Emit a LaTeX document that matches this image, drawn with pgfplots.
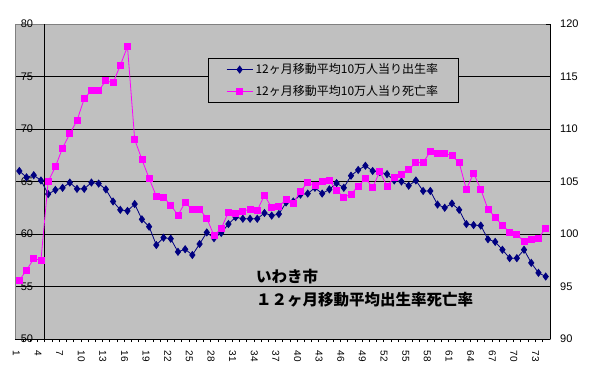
\documentclass[border=0pt]{standalone}
\usepackage{fontspec}
\setmainfont{Liberation Sans}
\newfontfamily\jp{Noto Sans CJK JP}
\usepackage{pgfplots}
\pgfplotsset{compat=1.18}
\definecolor{bg}{HTML}{C0C0C0}
\definecolor{navyb}{HTML}{000080}
\definecolor{mag}{HTML}{FF00FF}
\begin{document}
\begin{tikzpicture}
\useasboundingbox (0,0) rectangle (595pt,378pt);
\begin{axis}[
  at={(15pt,39pt)}, anchor=south west,
  scale only axis, width=535pt, height=315pt,
  xmin=0.4, xmax=74.6, ymin=50, ymax=80,
  axis background/.style={fill=bg},
  axis line style={draw=gray},
  xtick={1,4,...,73},
  minor xtick={1.5,2.5,...,73.5},
  xtick pos=left, xtick align=outside,
  major x tick style={draw=none},
  minor tick length=3pt,
  minor x tick style={black},
  xticklabel style={font=\fontsize{10}{12}\selectfont, xshift=-3pt, yshift=-4pt, rotate=-90, anchor=west},
  ytick={55,60,...,75},
  extra y ticks={50,80},
  extra y tick style={grid=none},
  ymajorgrids, grid style={black, line width=0.9pt},
  major y tick style={draw=none},
  ytick pos=left,
  yticklabel style={font=\fontsize{11}{13}\selectfont, anchor=east, inner sep=0pt, xshift=18.3pt},
  /pgf/number format/assume math mode=true,
  legend style={at={(0.3607,0.8921)}, anchor=north west, fill=bg, draw=black, line width=0.6pt,
    font=\jp\fontsize{12}{14}\selectfont, row sep=5pt, inner xsep=18pt, inner ysep=3pt,
    nodes={inner sep=2.5pt}},
  legend cell align=left,
  legend image code/.code={\draw[mark repeat=2, mark phase=2, #1] plot coordinates {(0pt,0pt) (13pt,0pt) (26pt,0pt)};},
]
\draw[black, line width=1pt] (axis cs:0.4,50) -- (axis cs:74.6,50);
\draw[black, line width=1pt] (axis cs:4.5,50) -- (axis cs:4.5,80);
\addplot[navyb, line width=0.8pt, mark=diamond*, mark size=3.5pt, mark options={solid}] coordinates {
(1,66.0) (2,65.4) (3,65.6) (4,65.1) (5,63.8) (6,64.2) (7,64.4) (8,64.9) (9,64.3) (10,64.3)
(11,64.9) (12,64.8) (13,64.25) (14,63.1) (15,62.3) (16,62.2) (17,62.85) (18,61.4) (19,60.7) (20,58.95)
(21,59.65) (22,59.55) (23,58.3) (24,58.55) (25,58.0) (26,59.05) (27,60.15) (28,59.6) (29,60.1) (30,60.95)
(31,61.6) (32,61.45) (33,61.45) (34,61.45) (35,62.0) (36,61.75) (37,61.9) (38,63.0) (39,63.1) (40,63.75)
(41,63.85) (42,64.4) (43,63.85) (44,64.25) (45,64.85) (46,64.4) (47,65.55) (48,66.1) (49,66.5) (50,66.0)
(51,65.9) (52,65.7) (53,65.1) (54,65.0) (55,64.6) (56,65.1) (57,64.1) (58,64.1) (59,62.8) (60,62.5)
(61,62.9) (62,62.3) (63,60.95) (64,60.85) (65,60.8) (66,59.5) (67,59.25) (68,58.5) (69,57.7) (70,57.7)
(71,58.5) (72,57.25) (73,56.3) (74,55.95)
};
\addlegendentry{12ヶ月移動平均10万人当り出生率}
\addlegendimage{mag, line width=0.8pt, mark=square*, mark size=3pt}
\addlegendentry{12ヶ月移動平均10万人当り死亡率}
\node[anchor=west, inner sep=0pt, font=\jp\bfseries\fontsize{15.5}{18}\selectfont] at (axis cs:33.8,55.96) {いわき市};
\node[anchor=west, inner sep=0pt, font=\jp\bfseries\fontsize{15.5}{18}\selectfont] at (axis cs:33.8,53.74) {１２ヶ月移動平均出生率死亡率};
\end{axis}
\begin{axis}[
  at={(15pt,39pt)}, anchor=south west,
  scale only axis, width=535pt, height=315pt,
  xmin=0.4, xmax=74.6, ymin=90, ymax=120,
  axis x line=none, axis y line*=right,
  y axis line style={black, line width=1pt},
  ytick={90,95,...,120},
  ytick align=inside, major tick length=4pt,
  major y tick style={black},
  yticklabel style={font=\fontsize{11}{13}\selectfont, anchor=west, inner sep=0pt, xshift=10pt},
  /pgf/number format/assume math mode=true,
]
\addplot[mag, line width=0.8pt, mark=square*, mark size=3pt, mark options={solid}] coordinates {
(1,95.6) (2,96.55) (3,97.65) (4,97.5) (5,105.0) (6,106.4) (7,108.2) (8,109.55) (9,110.8) (10,112.9)
(11,113.65) (12,113.65) (13,114.6) (14,114.4) (15,116.05) (16,117.85) (17,109.0) (18,107.1) (19,105.3) (20,103.6)
(21,103.5) (22,102.75) (23,101.8) (24,103.0) (25,102.3) (26,102.35) (27,101.5) (28,99.85) (29,100.5) (30,102.1)
(31,101.95) (32,102.2) (33,102.35) (34,102.25) (35,103.7) (36,102.5) (37,102.65) (38,103.25) (39,102.9) (40,104.1)
(41,104.9) (42,104.6) (43,105.0) (44,105.1) (45,104.15) (46,103.5) (47,103.8) (48,104.55) (49,105.3) (50,104.45)
(51,105.95) (52,104.55) (53,105.4) (54,105.7) (55,106.15) (56,106.8) (57,106.8) (58,107.85) (59,107.7) (60,107.7)
(61,107.45) (62,106.8) (63,104.25) (64,105.8) (65,104.25) (66,102.35) (67,101.6) (68,100.8) (69,100.2) (70,99.95)
(71,99.3) (72,99.5) (73,99.6) (74,100.55)
};
\end{axis}
\end{tikzpicture}
\end{document}
